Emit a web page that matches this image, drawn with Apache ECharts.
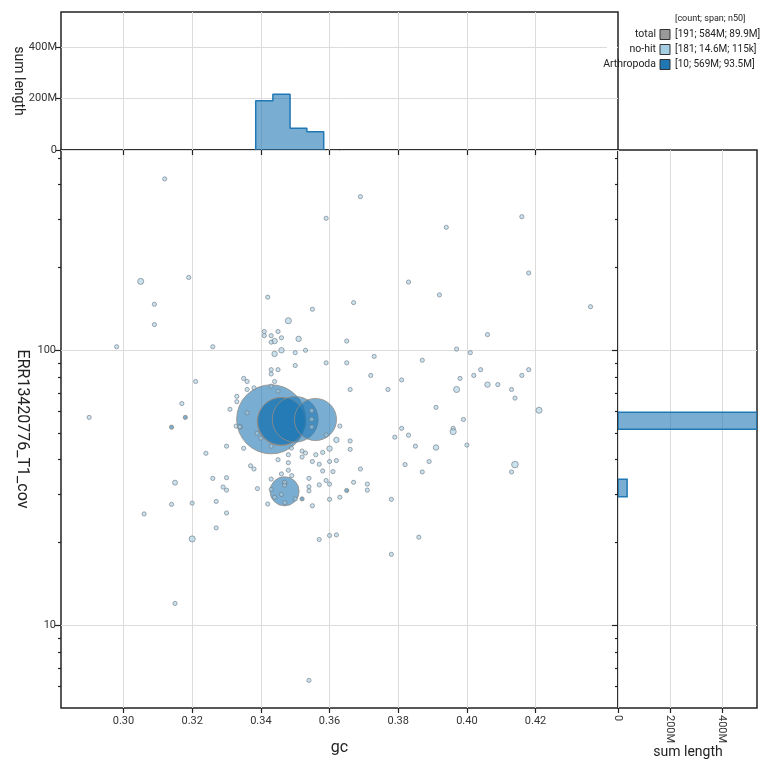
<!DOCTYPE html>
<html>
<head>
<meta charset="utf-8">
<script src="https://cdn.jsdelivr.net/npm/echarts@6/dist/echarts.min.js"></script>
<style>
  html, body { margin: 0; padding: 0; background: #fff; }
  #blob { width: 770px; height: 770px; }
</style>
</head>
<body>
<div id="blob"></div>
<script>
// axis ranges and ticks
var gcMin = 0.2818, gcMax = 0.4440;
var covMin = 5, covMax = 535;
var lenMax = 535;
var gcTicks = [0.30, 0.32, 0.34, 0.36, 0.38, 0.40, 0.42];
var covMajor = [10, 100];
var covMinor = [6, 7, 8, 9, 20, 30, 40, 50, 60, 70, 80, 90, 200, 300, 400, 500];
var lenTicks = [0, 200, 400];

// top histogram: gc bins, summed length (M)
var gcBinEdges = [0.3385, 0.3435, 0.3485, 0.3534, 0.3583];
var gcBinSums = [191, 216, 84, 71];

// right histogram: coverage bins, summed length (M)
var covBinLow = [51.6, 29.35];
var covBinHigh = [59.5, 33.96];
var covBinSums = [535, 35];

// legend
var legendNames = ['total', 'no-hit', 'Arthropoda'];
var legendStats = ['[191; 584M; 89.9M]', '[181; 14.6M; 115k]', '[10; 569M; 93.5M]'];

// blobs: [gc, coverage, length in M]
var arthropoda = [
  [0.3430, 56.1, 191], [0.3459, 55.0, 92], [0.3460, 55.2, 91], [0.3500, 56.1, 84],
  [0.3559, 56.0, 71], [0.3469, 30.7, 34], [0.318, 57, 0.4], [0.314, 52.5, 0.4],
  [0.365, 30.9, 0.4], [0.352, 28.8, 0.4]
];
var noHit = [
  [0.312, 420, 0.1], [0.369, 362, 0.1], [0.359, 302, 0.1], [0.416, 306, 0.1], [0.394, 280, 0.1],
  [0.305, 178, 1.5], [0.319, 184, 0.1], [0.383, 177, 0.6], [0.418, 191, 0.6], [0.309, 147, 0.1],
  [0.392, 159, 0.6], [0.367, 149, 0.1], [0.436, 144, 0.1], [0.309, 124, 0.1], [0.342, 156, 0.1],
  [0.355, 141, 0.1], [0.348, 128, 1.5], [0.341, 117, 0.1], [0.341, 113, 0.1], [0.343, 113, 0.1],
  [0.345, 117, 0.6], [0.346, 111, 0.6], [0.344, 108, 1.2], [0.343, 107, 0.1], [0.351, 110, 1.2],
  [0.298, 103, 0.1], [0.326, 103, 0.1], [0.346, 100, 1.2], [0.350, 98, 0.6], [0.353, 100, 0.1],
  [0.344, 97, 1.2], [0.365, 108, 0.1], [0.406, 114, 0.6], [0.397, 101, 0.6], [0.401, 98, 0.1],
  [0.373, 95, 0.1], [0.387, 92, 0.1], [0.359, 90, 0.6], [0.365, 90, 0.1], [0.350, 88, 0.6],
  [0.343, 85, 0.6], [0.345, 85, 0.6], [0.343, 82, 0.1], [0.418, 85, 0.6], [0.404, 85, 0.6],
  [0.416, 81, 0.1], [0.402, 81, 0.6], [0.372, 81, 0.1], [0.321, 77, 0.6], [0.335, 79, 0.6],
  [0.336, 77, 0.6], [0.344, 77, 0.6], [0.381, 78, 0.6], [0.398, 79, 0.6], [0.406, 75, 1.2],
  [0.409, 75, 0.6], [0.413, 72, 0.6], [0.397, 72, 1.5], [0.366, 72, 0.6], [0.377, 72, 0.6],
  [0.336, 72, 0.1], [0.338, 73, 0.1], [0.343, 74, 0.6], [0.345, 71, 0.1], [0.333, 68, 0.1],
  [0.414, 67, 0.1], [0.333, 65, 0.1], [0.317, 64, 0.6], [0.290, 57, 0.6], [0.331, 61, 0.6],
  [0.391, 62, 0.6], [0.421, 60.5, 1.5], [0.399, 56, 0.6], [0.363, 53, 0.6], [0.381, 52, 0.1],
  [0.396, 52, 0.1], [0.334, 52.6, 0.6],
  [0.336, 59.2, 0.6], [0.3548, 60.3, 0.6], [0.3548, 56.1, 0.6], [0.3548, 52.6, 0.6],
  [0.3328, 53, 0.6], [0.3338, 52.7, 0.6], [0.3389, 49.9, 0.6], [0.340, 47.9, 0.6],
  [0.343, 44.8, 0.6], [0.359, 49.2, 0.6], [0.3489, 44.1, 0.6],
  [0.330, 44.8, 0.1], [0.324, 42.2, 0.1], [0.335, 44, 0.1], [0.337, 38, 0.6], [0.338, 37, 0.6],
  [0.345, 40, 0.6], [0.348, 41.7, 0.6], [0.348, 39, 0.6], [0.348, 36.6, 0.6], [0.352, 43, 0.1],
  [0.353, 42.3, 0.1], [0.352, 40.9, 0.1], [0.356, 41.7, 0.1], [0.358, 42.5, 0.6], [0.360, 43.9, 1.2],
  [0.362, 47.2, 1.2], [0.366, 46.8, 0.1], [0.366, 43.6, 0.1], [0.355, 39.4, 0.1], [0.357, 38.5, 0.1],
  [0.360, 39.4, 0.1], [0.362, 39.7, 0.1], [0.358, 36.4, 0.1], [0.361, 36.2, 0.1], [0.369, 37, 0.6],
  [0.367, 33.1, 0.1], [0.371, 32.6, 0.1], [0.371, 31, 0.1], [0.359, 33.6, 0.6], [0.360, 32.6, 0.6],
  [0.357, 32.4, 0.1], [0.354, 31.9, 0.1], [0.354, 30.8, 0.1], [0.354, 34.2, 0.1], [0.346, 35.5, 0.6],
  [0.349, 35, 0.1], [0.343, 34, 0.6], [0.339, 31.4, 0.6], [0.343, 31.2, 0.6], [0.344, 29.2, 0.6],
  [0.346, 29.9, 0.1], [0.347, 32.8, 0.6], [0.350, 28.8, 0.1], [0.355, 27.2, 0.1], [0.360, 28.7, 0.6],
  [0.363, 29.2, 0.1], [0.342, 27.6, 0.6], [0.347, 27.9, 0.1], [0.330, 34.4, 0.1], [0.326, 34.2, 0.1],
  [0.329, 31.8, 0.6], [0.330, 31, 0.1], [0.327, 28.2, 0.6], [0.330, 25.6, 0.1], [0.327, 22.6, 0.1],
  [0.320, 27.8, 0.6], [0.320, 20.6, 1.5], [0.315, 33, 1.0], [0.314, 27.5, 0.6], [0.306, 25.4, 0.6],
  [0.315, 12.0, 0.1], [0.354, 6.3, 0.1], [0.357, 20.5, 0.1], [0.360, 21.2, 0.1], [0.362, 21.3, 0.1],
  [0.378, 18.1, 0.1], [0.378, 28.7, 0.1], [0.386, 20.9, 0.1], [0.379, 48.3, 0.6], [0.383, 49.1, 0.1],
  [0.385, 44.8, 0.6], [0.391, 44.3, 1.2], [0.382, 38.4, 0.1], [0.389, 39.4, 0.6], [0.387, 36.1, 0.6],
  [0.396, 50.6, 1.5], [0.400, 45.2, 0.1], [0.414, 38.4, 1.8], [0.413, 36.1, 0.1],
  [0.3469, 33.1, 0.6], [0.3469, 32.3, 0.6]
];

var chart = echarts.init(document.getElementById('blob'));
var FONT = 'Roboto, "Noto Sans", sans-serif';
var BORDER = '#222';
var GRID_LINE = { show: true, lineStyle: { color: '#dcdcdc', width: 1 } };

function lenLabel(v) { return v === 0 ? '0' : v + 'M'; }
function blobSize(d) { return Math.max(4.2, 5 * Math.sqrt(d[2])); }

// step outline for the gc histogram
var topStep = [[gcBinEdges[0], 0]];
for (var i = 0; i < gcBinSums.length; i++) topStep.push([gcBinEdges[i], gcBinSums[i]]);
topStep.push([gcBinEdges[gcBinEdges.length - 1], gcBinSums[gcBinSums.length - 1]]);
topStep.push([gcBinEdges[gcBinEdges.length - 1], 0]);

var rightData = covBinSums.map(function (v, i) { return [covBinLow[i], covBinHigh[i], v]; });

var sortedArth = arthropoda.slice().sort(function (a, b) { return b[2] - a[2]; });

var tickStyle = { color: BORDER, width: 1.2 };

function legendText(x, y, text, size, align) {
  return { type: 'text', x: x, y: y, z: 60,
    style: { text: text, fill: '#222', fontSize: size, fontFamily: FONT, align: align || 'left', verticalAlign: 'middle' } };
}
function legendBox(y, fill) {
  return { type: 'rect', z: 60, shape: { x: 660, y: y - 5, width: 10, height: 10 },
    style: { fill: fill, stroke: '#333', lineWidth: 1 } };
}
function axisTitle(x, y, text, size, rotated) {
  return { type: 'text', x: x, y: y, rotation: rotated ? -Math.PI / 2 : 0, z: 60,
    style: { text: text, fill: '#222', fontSize: size, fontFamily: FONT, align: 'center', verticalAlign: 'middle' } };
}
var legendColors = ['#999', '#a6cee3', '#1f78b4'];
var graphics = [
  { type: 'rect', shape: { x: 607, y: 38, width: 10, height: 34 }, style: { fill: '#fff' }, z: 50 },
  legendText(675, 19, '[count; span; n50]', 9),
  axisTitle(22, 429, 'ERR13420776_T1_cov', 16, true),
  axisTitle(18, 81, 'sum length', 14, true),
  axisTitle(688, 752, 'sum length', 14, false)
];
legendNames.forEach(function (name, k) {
  var y = 34.5 + k * 15;
  graphics.push(legendText(656, y, name, 10.5, 'right'));
  graphics.push(legendBox(y, legendColors[k]));
  graphics.push(legendText(675, y, legendStats[k], 10));
});

chart.setOption({
  animation: false,
  textStyle: { fontFamily: FONT },
  grid: [
    { left: 61, top: 12, width: 557, height: 138, show: true, borderColor: BORDER, borderWidth: 1.5 },
    { left: 61, top: 150, width: 557, height: 558, show: true, borderColor: BORDER, borderWidth: 1.5 },
    { left: 618, top: 150, width: 139, height: 558, show: true, borderColor: BORDER, borderWidth: 1.5 }
  ],
  xAxis: [
    { gridIndex: 0, type: 'value', min: gcMin, max: gcMax, position: 'bottom',
      axisLine: { show: false },
      axisTick: { customValues: gcTicks, length: 5, lineStyle: tickStyle },
      axisLabel: { show: false }, splitLine: GRID_LINE },
    { gridIndex: 1, type: 'value', min: gcMin, max: gcMax, position: 'bottom',
      axisLine: { show: false },
      axisTick: { customValues: gcTicks, length: 5, lineStyle: tickStyle },
      axisLabel: { customValues: gcTicks, formatter: function (v) { return v.toFixed(2); },
        fontSize: 11, color: '#333', margin: 8, fontFamily: FONT },
      splitLine: GRID_LINE,
      name: 'gc', nameLocation: 'middle', nameGap: 32,
      nameTextStyle: { fontSize: 16, color: '#222', fontFamily: FONT } },
    { gridIndex: 2, type: 'value', min: 0, max: lenMax, position: 'bottom',
      axisLine: { show: false },
      axisTick: { customValues: lenTicks, length: 5, lineStyle: tickStyle },
      axisLabel: { customValues: lenTicks, formatter: lenLabel, rotate: -90,
        fontSize: 11, color: '#333', margin: 7, fontFamily: FONT },
      splitLine: GRID_LINE }
  ],
  yAxis: [
    { gridIndex: 0, type: 'value', min: 0, max: lenMax, position: 'left',
      axisLine: { show: false },
      axisTick: { customValues: lenTicks, length: 5, lineStyle: tickStyle },
      axisLabel: { customValues: lenTicks, formatter: lenLabel, fontSize: 11, color: '#333',
        margin: 4, fontFamily: FONT },
      splitLine: GRID_LINE },
    // main plot, minor ticks
    { gridIndex: 1, type: 'log', logBase: 10, min: covMin, max: covMax, position: 'left',
      axisLine: { show: false },
      axisTick: { customValues: covMinor, length: 3, lineStyle: tickStyle },
      axisLabel: { show: false }, splitLine: { show: false } },
    // main plot, major ticks
    { gridIndex: 1, type: 'log', logBase: 10, min: covMin, max: covMax, position: 'left',
      axisLine: { show: false },
      axisTick: { customValues: covMajor, length: 6, lineStyle: tickStyle },
      axisLabel: { customValues: covMajor, fontSize: 11, color: '#333', margin: 5, fontFamily: FONT },
      splitLine: GRID_LINE },
    // right histogram, minor ticks
    { gridIndex: 2, type: 'log', logBase: 10, min: covMin, max: covMax, position: 'left',
      axisLine: { show: false },
      axisTick: { customValues: covMinor, length: 3, lineStyle: tickStyle },
      axisLabel: { show: false }, splitLine: { show: false } },
    // right histogram, major ticks
    { gridIndex: 2, type: 'log', logBase: 10, min: covMin, max: covMax, position: 'left',
      axisLine: { show: false },
      axisTick: { customValues: covMajor, length: 6, lineStyle: tickStyle },
      axisLabel: { show: false }, splitLine: GRID_LINE }
  ],
  series: [
    { type: 'line', xAxisIndex: 0, yAxisIndex: 0, data: topStep, step: 'end',
      symbol: 'none', lineStyle: { color: '#1f78b4', width: 1.5 },
      areaStyle: { color: 'rgba(31,120,180,0.6)', opacity: 1 }, z: 3 },
    { type: 'custom', xAxisIndex: 2, yAxisIndex: 4, data: rightData, clip: true,
      renderItem: function (params, api) {
        var p0 = api.coord([0, api.value(1)]);
        var p1 = api.coord([api.value(2), api.value(0)]);
        return { type: 'rect',
          shape: { x: p0[0], y: p0[1], width: p1[0] - p0[0], height: p1[1] - p0[1] },
          style: { fill: 'rgba(31,120,180,0.6)', stroke: '#1f78b4', lineWidth: 1.5 } };
      }, z: 3 },
    { type: 'scatter', name: 'Arthropoda', xAxisIndex: 1, yAxisIndex: 2, data: sortedArth,
      symbolSize: blobSize,
      itemStyle: { color: 'rgba(31,120,180,0.6)', opacity: 1, borderColor: 'rgba(150,140,130,0.8)', borderWidth: 1 }, z: 3 },
    { type: 'scatter', name: 'no-hit', xAxisIndex: 1, yAxisIndex: 2, data: noHit,
      symbolSize: blobSize,
      itemStyle: { color: 'rgba(166,206,227,0.6)', opacity: 1, borderColor: 'rgba(110,120,130,0.9)', borderWidth: 0.7 }, z: 4 }
  ],
  graphic: graphics
});
</script>
</body>
</html>
